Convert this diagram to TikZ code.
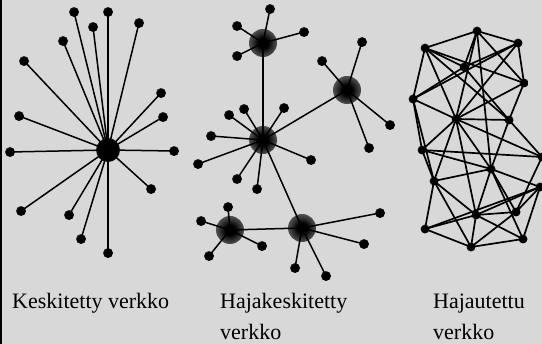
\documentclass[tikz,border=0pt]{standalone}
\usepackage{fontspec}
\setmainfont{Liberation Serif}
\definecolor{bgc}{RGB}{216,216,216}
\pgfdeclareradialshading{leafsh}{\pgfpoint{0bp}{0bp}}{color(0bp)=(black); color(22bp)=(black); color(28bp)=(black!65!bgc); color(38bp)=(black!35!bgc); color(46bp)=(white!40!bgc); color(50bp)=(bgc)}
\pgfdeclareradialshading{hubsh}{\pgfpoint{0bp}{0bp}}{color(0bp)=(black); color(9bp)=(black); color(18bp)=(black!78!bgc); color(30bp)=(black!52!bgc); color(39bp)=(black!32!bgc); color(43bp)=(black!15!bgc); color(46bp)=(white); color(48bp)=(white!60!bgc); color(50bp)=(bgc)}
\pgfdeclareradialshading{chubsh}{\pgfpoint{0bp}{0bp}}{color(0bp)=(black); color(22bp)=(black); color(32bp)=(black!60!bgc); color(40bp)=(black!25!bgc); color(45bp)=(white); color(50bp)=(bgc)}
\begin{document}
\begin{tikzpicture}[x=1pt,y=-1pt,
  leaf/.style={circle,inner sep=0pt,minimum size=10pt,shading=leafsh},
  dnode/.style={circle,inner sep=0pt,minimum size=9pt,shading=leafsh},
  hub/.style={circle,inner sep=0pt,minimum size=28pt,shading=hubsh},
  chub/.style={circle,inner sep=0pt,minimum size=24pt,shading=chubsh},
  link/.style={line width=1.5pt,black},
  mesh/.style={line width=1.7pt,black},
  lab/.style={anchor=base west,inner sep=0pt,font=\fontsize{22}{26}\selectfont}]
\fill[bgc] (0,0) rectangle (542,344);
\path[use as bounding box] (0,0) rectangle (542,344);
\fill[black] (0,0) rectangle (2,344);

% ---------- centralized ----------
\node[chub] (c0) at (108,150) {};
\foreach \n/\x/\y in {1/74/12, 2/108/12, 3/93/27, 4/139/23, 5/63/41, 6/24/61,
  7/161/93, 8/163/117, 9/19/116, 10/10/152, 11/174/151, 12/151/189,
  13/21/211, 14/69/215, 15/81/239, 16/108/253}
  \node[leaf] (c\n) at (\x,\y) {};
\foreach \n in {1,...,16}
  \draw[link] (c0.center) -- (c\n.center);

% ---------- decentralized ----------
\node[hub] (ha) at (263,43) {};
\node[hub] (hb) at (347,90) {};
\node[hub] (hc) at (263,140) {};
\node[hub] (hd) at (230,230) {};
\node[hub] (he) at (302,228) {};
\foreach \n/\x/\y in {a1/270/9, a2/237/26, a3/304/32, a4/237/56,
  b1/362/42, b2/322/61, b3/390/125, b4/369/148,
  k1/244/109, k2/229/115, k3/284/108, k4/211/136, k5/198/164, k6/311/160, k7/237/179, k8/257/189,
  d1/228/207, d2/201/221, d3/262/246, d4/209/256,
  e1/380/213, e2/364/244, e3/295/268, e4/326/276}
  \node[leaf] (\n) at (\x,\y) {};
\foreach \h/\l in {ha/a1, ha/a2, ha/a3, ha/a4, hb/b1, hb/b2, hb/b3, hb/b4,
  hc/k1, hc/k2, hc/k3, hc/k4, hc/k5, hc/k6, hc/k7, hc/k8,
  hd/d1, hd/d2, hd/d3, hd/d4, he/e1, he/e2, he/e3, he/e4,
  ha/hc, hc/hb, hc/he, hd/he}
  \draw[link] (\h.center) -- (\l.center);

% ---------- distributed ----------
\foreach \n/\x/\y in {1/477/31, 2/425/48, 3/518/43, 4/464/67, 5/524/83,
  7/413/99, 8/456/119, 9/509/120, 10/422/150, 11/542/157, 12/491/169,
  13/434/181, 14/540/187, 15/516/212, 16/476/215, 17/425/229, 18/523/239, 19/471/247}
  \node[dnode] (n\n) at (\x,\y) {};
\foreach \a/\b in {1/2, 1/3, 1/4, 1/5, 1/8, 1/12,
  2/7, 2/4, 2/5, 2/8, 2/9,
  3/5, 3/4, 3/7, 3/8,
  4/9, 4/7,
  5/8, 5/9,
  7/8, 7/10, 7/13,
  8/9, 8/10, 8/11, 8/12, 8/13, 8/16,
  9/11, 9/12,
  10/11, 10/12, 10/13,
  11/15,
  12/13, 12/14, 12/15, 12/16, 12/18,
  13/16, 13/17, 13/19,
  14/15, 14/18, 14/16, 14/17,
  15/16, 15/19,
  16/17, 16/18, 16/19,
  17/19, 18/19}
  \draw[mesh] (n\a.center) -- (n\b.center);

% ---------- labels ----------
\node[lab] (t1) at (12,309) {Keskitetty verkko};
\node[lab] (t2a) at (220,309) {Hajakeskitetty};
\node[lab] (t2b) at (220,340) {verkko};
\node[lab] (t3a) at (433,309) {Hajautettu};
\node[lab] (t3b) at (433,340) {verkko};
\end{tikzpicture}
\end{document}
